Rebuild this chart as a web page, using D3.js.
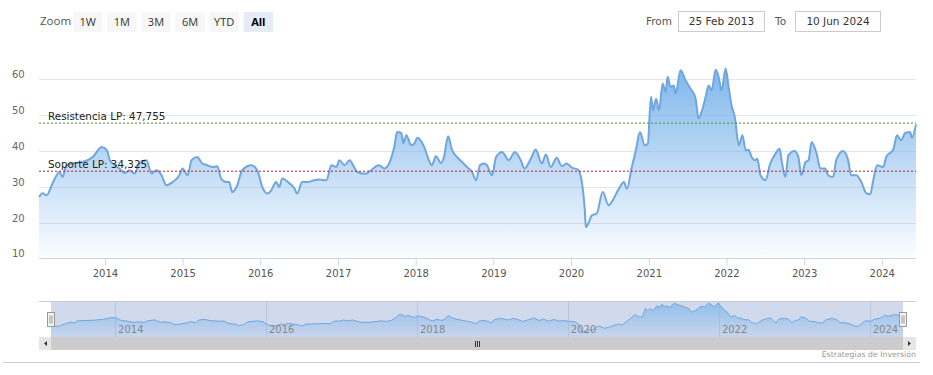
<!DOCTYPE html>
<meta charset="utf-8">
<title>Cotización</title>
<script src="https://cdn.jsdelivr.net/npm/d3@7"></script>
<style>
  body { margin: 0; background: #fff; }
  text { font-family: "DejaVu Sans", Verdana, sans-serif; }
  .btn text { font-family: "Open Sans", sans-serif; font-size: 11px; fill: #333; }
</style>
<div id="chart"></div>
<script>

// price series
var dates = ["2013-02-25","2013-03-14","2013-04-02","2013-04-30","2013-06-02","2013-06-16","2013-07-04","2013-08-02","2013-09-18","2013-11-05",
  "2013-12-17","2014-01-10","2014-01-24","2014-02-17","2014-03-10","2014-04-03","2014-04-26","2014-05-20","2014-06-12","2014-07-15",
  "2014-08-08","2014-09-01","2014-09-24","2014-10-17","2014-11-15","2014-12-17","2015-01-01","2015-01-25","2015-02-12","2015-03-11",
  "2015-04-03","2015-04-27","2015-05-20","2015-06-13","2015-07-01","2015-07-25","2015-08-08","2015-08-22","2015-09-15","2015-10-08",
  "2015-11-20","2015-12-18","2016-01-11","2016-02-04","2016-02-22","2016-03-16","2016-03-30","2016-04-14","2016-05-16","2016-06-09",
  "2016-06-23","2016-07-16","2016-08-09","2016-09-11","2016-10-05","2016-11-07","2016-12-01","2016-12-24","2017-01-07","2017-02-01",
  "2017-02-24","2017-03-17","2017-04-01","2017-05-12","2017-06-05","2017-07-12","2017-08-06","2017-08-29","2017-09-22","2017-10-06",
  "2017-10-25","2017-11-04","2017-11-18","2017-12-11","2017-12-25","2018-01-09","2018-02-10","2018-03-04","2018-03-18","2018-04-06",
  "2018-04-30","2018-05-14","2018-06-02","2018-06-21","2018-07-14","2018-08-07","2018-08-30","2018-09-23","2018-10-12","2018-10-30",
  "2018-11-18","2018-12-02","2018-12-26","2019-01-14","2019-02-11","2019-03-14","2019-04-12","2019-05-10","2019-05-28","2019-06-26",
  "2019-07-19","2019-08-17","2019-09-05","2019-09-28","2019-10-26","2019-11-19","2019-12-12","2020-01-05","2020-02-03","2020-02-22",
  "2020-03-06","2020-03-11","2020-03-25","2020-04-08","2020-05-01","2020-05-29","2020-06-26","2020-07-11","2020-08-13","2020-09-06",
  "2020-09-20","2020-10-13","2020-11-01","2020-11-20","2020-12-13","2020-12-27","2021-01-11","2021-01-21","2021-02-04","2021-02-18",
  "2021-03-07","2021-03-21","2021-03-30","2021-04-13","2021-04-28","2021-05-07","2021-05-30","2021-06-23","2021-07-16","2021-08-09",
  "2021-08-23","2021-09-06","2021-09-25","2021-10-09","2021-10-23","2021-11-11","2021-11-25","2021-12-09","2021-12-28","2022-01-11",
  "2022-01-25","2022-02-09","2022-02-28","2022-03-17","2022-04-01","2022-04-15","2022-04-29","2022-05-17","2022-05-26","2022-06-10",
  "2022-07-03","2022-07-26","2022-08-19","2022-09-08","2022-09-17","2022-10-05","2022-10-19","2022-11-17","2022-12-05","2022-12-19",
  "2023-01-08","2023-01-22","2023-02-05","2023-03-01","2023-03-18","2023-04-10","2023-04-24","2023-05-17","2023-06-01","2023-07-03",
  "2023-07-27","2023-08-10","2023-09-03","2023-09-27","2023-10-20","2023-11-08","2023-11-22","2023-12-10","2024-01-08","2024-01-22",
  "2024-02-24","2024-03-13","2024-04-01","2024-04-20","2024-05-13","2024-05-22","2024-06-10"];

var values = [27.1,28.2,27.6,31.0,34.1,32.7,36.0,36.5,36.9,38.3,
  41.1,40.2,37.4,36.0,35.1,33.8,34.6,33.7,36.5,37.4,
  33.7,34.6,33.2,30.4,31.3,33.2,35.1,33.2,37.4,38.3,
  36.5,36.0,35.5,35.7,32.3,31.3,31.3,28.5,30.4,34.6,
  36.0,34.6,29.9,28.1,29.0,31.3,29.9,32.3,31.0,29.6,
  28.1,31.3,31.3,31.8,32.0,31.8,36.0,35.5,37.4,36.0,
  37.4,35.5,34.1,33.6,34.6,36.0,35.1,36.5,41.1,45.3,
  45.0,42.2,44.4,41.6,42.0,43.7,41.1,37.4,36.0,38.5,
  36.6,38.3,44.1,40.2,38.3,36.9,35.5,34.1,31.8,36.0,
  36.5,36.0,33.2,38.3,39.7,37.4,39.7,37.4,35.1,37.8,
  40.4,36.5,39.0,35.5,38.1,35.7,36.5,35.3,34.8,30.9,
  23.4,18.7,20.1,22.0,22.5,28.5,24.8,25.8,29.4,31.3,
  29.4,35.5,40.2,45.3,41.6,42.0,55.1,51.3,54.6,51.3,
  58.8,56.5,60.7,57.9,58.3,56.0,62.5,59.7,57.4,54.6,
  49.0,50.9,55.1,58.3,56.9,62.7,60.7,56.9,63.0,57.9,
  52.7,49.5,41.6,44.4,40.2,40.3,38.3,37.4,37.8,33.2,
  31.8,36.5,39.2,40.6,37.4,32.7,38.8,40.0,38.3,33.2,
  36.9,37.4,42.5,39.2,35.1,35.1,33.2,32.7,37.4,40.0,
  37.4,33.2,33.2,31.3,28.2,27.9,31.8,36.0,35.5,38.3,
  40.4,44.4,43.0,45.0,45.3,43.7,47.4];

// long-term levels
var levelNames = ["Resistencia LP: 47,755", "Soporte LP: 34,325"];
var levelValues = [47.755, 34.325];
var levelColors = ["#3f9a2a", "#c0262c"];

var yTicks = [10, 20, 30, 40, 50, 60];
var zoomButtons = ["1W", "1M", "3M", "6M", "YTD", "All"];
var fromLabel = "25 Feb 2013", toLabel = "10 Jun 2024";

var parse = d3.timeParse("%Y-%m-%d");
var data = dates.map(function(d, i) { return {date: parse(d), value: values[i]}; });

var W = 933, H = 375;
var plot = {left: 39, right: 916, top: 62, bottom: 258};

var svg = d3.select("#chart").append("svg")
  .attr("width", W).attr("height", H);

var defs = svg.append("defs");
var grad = defs.append("linearGradient").attr("id", "areaGrad")
  .attr("gradientUnits", "userSpaceOnUse")
  .attr("x1", 0).attr("x2", 0).attr("y1", plot.top).attr("y2", plot.bottom);
grad.append("stop").attr("offset", 0).attr("stop-color", "#7cb5ec").attr("stop-opacity", 1);
grad.append("stop").attr("offset", 1).attr("stop-color", "#7cb5ec").attr("stop-opacity", 0.03);

var x = d3.scaleTime()
  .domain(d3.extent(data, function(d) { return d.date; }))
  .range([plot.left, plot.right]);
var y = d3.scaleLinear().domain([10, 60]).range([258.3, 79.3]);

// grid + y labels
svg.append("g").selectAll("line").data(yTicks.slice(1)).enter().append("line")
  .attr("x1", plot.left).attr("x2", plot.right)
  .attr("y1", function(d) { return Math.round(y(d)) + 0.5; })
  .attr("y2", function(d) { return Math.round(y(d)) + 0.5; })
  .style("stroke", "#e6e6e6");

svg.append("g").selectAll("text").data(yTicks).enter().append("text")
  .attr("x", 12).attr("y", function(d) { return y(d) - 1; })
  .style("font-size", "10px").style("fill", "#666")
  .text(function(d) { return d; });

// area + line
var area = d3.area().curve(d3.curveMonotoneX)
  .x(function(d) { return x(d.date); })
  .y0(y(10)).y1(function(d) { return y(d.value); });
var line = d3.line().curve(d3.curveMonotoneX)
  .x(function(d) { return x(d.date); })
  .y(function(d) { return y(d.value); });

svg.append("path").datum(data).attr("d", area).style("fill", "url(#areaGrad)");
svg.append("path").datum(data).attr("d", line)
  .style("fill", "none").style("stroke", "#6fa6de").style("stroke-width", 2);

// support / resistance lines
levelValues.forEach(function(v, i) {
  svg.append("line")
    .attr("x1", plot.left).attr("x2", plot.right)
    .attr("y1", y(v)).attr("y2", y(v))
    .style("stroke", levelColors[i]).style("stroke-width", 1)
    .style("stroke-dasharray", "2,2");
  svg.append("text")
    .attr("x", 48).attr("y", y(v) - 3)
    .style("font-size", "10.4px").style("fill", "#222")
    .text(levelNames[i]);
});

// x axis
var years = d3.timeYear.range(new Date(2014, 0, 1), new Date(2024, 1, 1));
var xAxis = svg.append("g")
  .attr("transform", "translate(0," + (plot.bottom + 0.5) + ")")
  .call(d3.axisBottom(x).tickValues(years).tickFormat(d3.timeFormat("%Y"))
    .tickSize(7).tickPadding(4).tickSizeOuter(0));
xAxis.select(".domain").style("stroke", "#ccd6eb").attr("d", "M" + plot.left + ",0H" + plot.right);
xAxis.selectAll(".tick line").style("stroke", "#ccd6eb");
xAxis.selectAll("text").style("font-size", "10px").style("fill", "#555")
  .style("font-family", "DejaVu Sans");

// range selector
svg.append("text").attr("x", 40).attr("y", 25)
  .style("font-family", "Open Sans").style("font-size", "11.5px").style("fill", "#555")
  .text("Zoom");
var btnX = d3.scaleBand().domain(zoomButtons).range([73, 273]).paddingInner(0.14);
var btn = svg.selectAll(".btn").data(zoomButtons).enter().append("g").attr("class", "btn")
  .attr("transform", function(d) { return "translate(" + btnX(d) + ",12)"; });
btn.append("rect").attr("width", btnX.bandwidth()).attr("height", 20)
  .style("fill", function(d) { return d === "All" ? "#e6ebf5" : "#f7f7f7"; });
btn.append("text").attr("x", btnX.bandwidth() / 2).attr("y", 14)
  .attr("text-anchor", "middle")
  .style("font-weight", function(d) { return d === "All" ? "bold" : "normal"; })
  .style("fill", function(d) { return d === "All" ? "#000" : "#333"; })
  .text(function(d) { return d; });

// date inputs
svg.append("text").attr("x", 646).attr("y", 25).style("font-size", "10.5px").style("fill", "#555").text("From");
svg.append("rect").attr("x", 678.5).attr("y", 11.5).attr("width", 86).attr("height", 20)
  .style("fill", "#fff").style("stroke", "#ccc");
svg.append("text").attr("x", 721.5).attr("y", 25).attr("text-anchor", "middle")
  .style("font-size", "10.5px").style("fill", "#333").text(fromLabel);
svg.append("text").attr("x", 775).attr("y", 25).style("font-size", "10.5px").style("fill", "#555").text("To");
svg.append("rect").attr("x", 795.5).attr("y", 11.5).attr("width", 85).attr("height", 20)
  .style("fill", "#fff").style("stroke", "#ccc");
svg.append("text").attr("x", 838).attr("y", 25).attr("text-anchor", "middle")
  .style("font-size", "10.5px").style("fill", "#333").text(toLabel);

// navigator
var nav = {left: 51, right: 903, top: 301, bottom: 337};
var nx = d3.scaleTime().domain(x.domain()).range([nav.left, nav.right]);
var ext = d3.extent(values);
var ny = d3.scaleLinear().domain([ext[0] - 7, ext[1] + 3]).range([nav.bottom, nav.top]);

var ngrad = defs.append("linearGradient").attr("id", "navGrad")
  .attr("x1", 0).attr("x2", 0).attr("y1", 0).attr("y2", 1);
ngrad.append("stop").attr("offset", 0).attr("stop-color", "#7cb5ec").attr("stop-opacity", 0.9);
ngrad.append("stop").attr("offset", 1).attr("stop-color", "#7cb5ec").attr("stop-opacity", 0.15);

svg.append("rect").attr("x", nav.left).attr("y", nav.top)
  .attr("width", nav.right - nav.left).attr("height", nav.bottom - nav.top)
  .style("fill", "rgba(102,133,194,0.3)");

var navYears = d3.timeYear.every(2).range(new Date(2014, 0, 1), new Date(2025, 0, 1));
svg.append("g").selectAll("line").data(navYears).enter().append("line")
  .attr("x1", function(d) { return Math.round(nx(d)) + 0.5; })
  .attr("x2", function(d) { return Math.round(nx(d)) + 0.5; })
  .attr("y1", nav.top).attr("y2", nav.bottom)
  .style("stroke", "rgba(150,160,180,0.35)");

svg.append("path").datum(data)
  .attr("d", d3.area().x(function(d) { return nx(d.date); })
    .y0(nav.bottom).y1(function(d) { return ny(d.value); }))
  .style("fill", "url(#navGrad)").style("opacity", 0.8);
svg.append("path").datum(data)
  .attr("d", d3.line().x(function(d) { return nx(d.date); }).y(function(d) { return ny(d.value); }))
  .style("fill", "none").style("stroke", "#6fa6de").style("stroke-width", 1);

svg.append("g").selectAll("text").data(navYears).enter().append("text")
  .attr("x", function(d) { return nx(d) + 3; }).attr("y", 333)
  .style("font-size", "10px").style("fill", "#888")
  .text(d3.timeFormat("%Y"));

svg.append("line").attr("x1", plot.left).attr("x2", plot.right)
  .attr("y1", nav.top + 0.5).attr("y2", nav.top + 0.5).style("stroke", "#ccc");

// handles
[nav.left, nav.right].forEach(function(hx) {
  var g = svg.append("g").attr("transform", "translate(" + (Math.round(hx) - 3.5) + ",312.5)");
  g.append("rect").attr("width", 7).attr("height", 14).style("fill", "#f2f2f2").style("stroke", "#999");
  g.append("line").attr("x1", 2.5).attr("x2", 2.5).attr("y1", 3).attr("y2", 11).style("stroke", "#999");
  g.append("line").attr("x1", 4.5).attr("x2", 4.5).attr("y1", 3).attr("y2", 11).style("stroke", "#999");
});

// scrollbar
svg.append("rect").attr("x", plot.left).attr("y", 337).attr("width", plot.right - plot.left).attr("height", 13)
  .style("fill", "#f2f2f2");
svg.append("rect").attr("x", nav.left).attr("y", 337).attr("width", nav.right - nav.left).attr("height", 13)
  .style("fill", "#cccccc");
svg.append("rect").attr("x", plot.left).attr("y", 337).attr("width", 12).attr("height", 13).style("fill", "#e6e6e6");
svg.append("rect").attr("x", nav.right).attr("y", 337).attr("width", 13).attr("height", 13).style("fill", "#e6e6e6");
svg.append("path").attr("d", "M47,341L44,343.5L47,346Z").style("fill", "#333");
svg.append("path").attr("d", "M908,341L911,343.5L908,346Z").style("fill", "#333");
[475, 477, 479].forEach(function(gx) {
  svg.append("line").attr("x1", gx + 0.5).attr("x2", gx + 0.5).attr("y1", 341).attr("y2", 347)
    .style("stroke", "#333");
});

// footer
svg.append("line").attr("x1", 3).attr("x2", 920).attr("y1", 362.5).attr("y2", 362.5).style("stroke", "#ccc");
svg.append("text").attr("x", 916).attr("y", 357).attr("text-anchor", "end")
  .style("font-size", "7.8px").style("fill", "#999").text("Estrategias de Inversión");

</script>
